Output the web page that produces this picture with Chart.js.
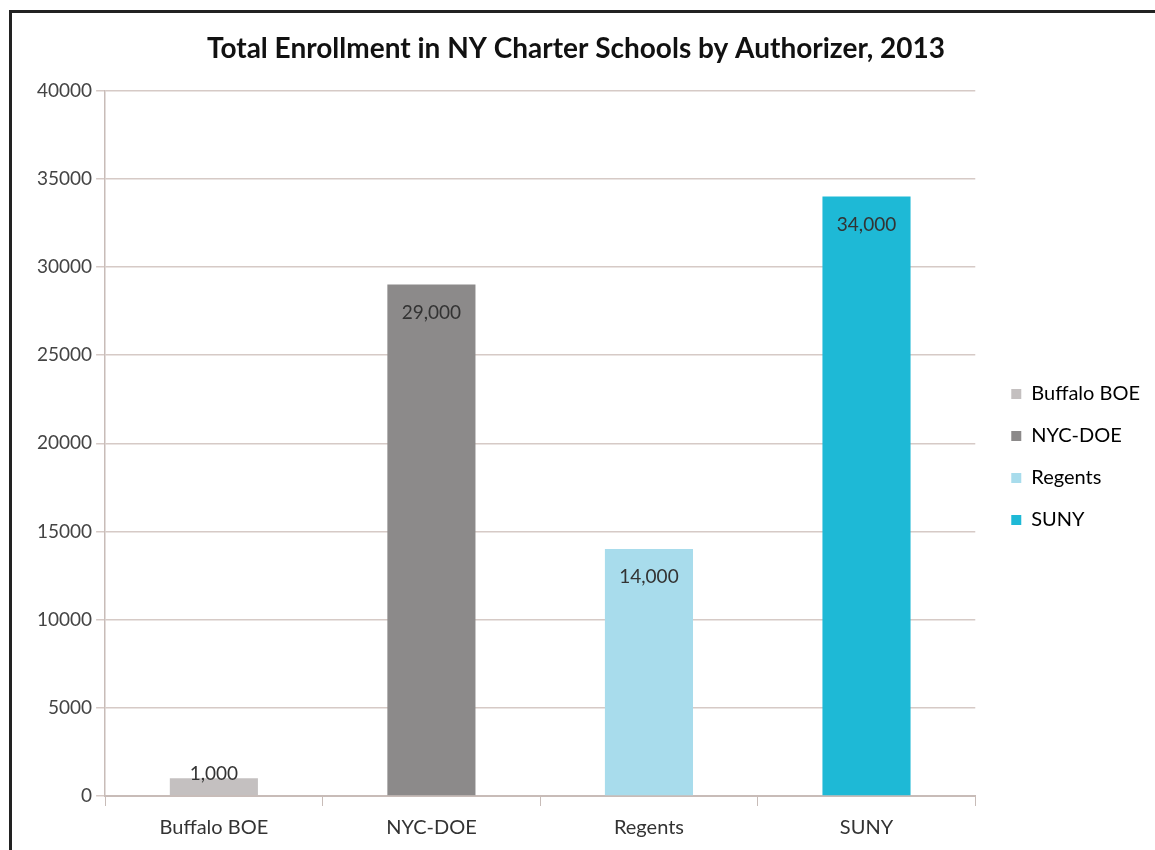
<!DOCTYPE html>
<html>
<head>
<meta charset="utf-8">
<script src="https://cdn.jsdelivr.net/npm/chart.js@4.4.1/dist/chart.umd.min.js"></script>
<style>
  html, body { margin: 0; padding: 0; background: #fff; }
  #frame {
    position: absolute; left: 9px; top: 10px;
    width: 1146px; height: 840px;
    border-left: 3px solid #222; border-top: 3px solid #222;
    box-sizing: border-box;
  }
  #wrap { position: absolute; left: 0; top: 0; width: 1155px; height: 850px; }
</style>
</head>
<body>
<div id="frame"></div>
<div id="wrap"><canvas id="chart1"></canvas></div>
<script>
const categories = ['Buffalo BOE', 'NYC-DOE', 'Regents', 'SUNY'];
const enrollment = [1000, 29000, 14000, 34000];
const labelsText = ['1,000', '29,000', '14,000', '34,000'];
const barColors = ['#c4c0c0', '#8c8a8a', '#a8dcec', '#1eb9d6'];

const fontFam = 'Lato, "Open Sans", sans-serif';

// draws the value labels on the bars
const barLabels = {
  id: 'barLabels',
  afterDatasetsDraw(chart) {
    const ctx = chart.ctx;
    const meta = chart.getDatasetMeta(0);
    ctx.save();
    ctx.font = '19px ' + fontFam;
    ctx.fillStyle = '#333';
    ctx.textAlign = 'center';
    ctx.textBaseline = 'middle';
    meta.data.forEach(function(bar, i) {
      const h = bar.base - bar.y;
      const y = h > 50 ? bar.y + 28 : bar.y - 4;
      ctx.fillText(labelsText[i], bar.x, y);
    });
    ctx.restore();
  }
};

// move legend and title a little to match the original placement
const boxNudge = {
  id: 'boxNudge',
  beforeInit(chart) {
    const lg = chart.legend;
    if (!lg || lg._nudged) return;
    const fit = lg.fit;
    lg.fit = function() { fit.call(this); this.width += 19; };
    lg._nudged = true;
  },
  afterLayout(chart) {
    const lg = chart.legend;
    lg.left += 14; lg.right += 14;
    lg.top += 16; lg.bottom += 16;
    if (chart.titleBlock) chart.titleBlock.left -= 36;
  }
};

const ctx1 = document.getElementById('chart1').getContext('2d');

new Chart(ctx1, {
  type: 'bar',
  data: {
    labels: categories,
    datasets: [{
      label: 'Enrollment',
      data: enrollment,
      backgroundColor: barColors,
      borderWidth: 0,
      categoryPercentage: 0.81,
      barPercentage: 0.5
    }]
  },
  options: {
    responsive: true,
    maintainAspectRatio: false,
    animation: false,
    layout: {
      padding: { left: 33, right: 0, top: 32, bottom: 0 }
    },
    plugins: {
      title: {
        display: true,
        text: 'Total Enrollment in NY Charter Schools by Authorizer, 2013',
        font: { family: fontFam, size: 28, weight: 'bold' },
        color: '#111',
        padding: { top: 0, bottom: 25 }
      },
      legend: {
        position: 'right',
        labels: {
          boxWidth: 10,
          boxHeight: 10,
          padding: 22,
          color: '#333',
          font: { family: fontFam, size: 20 },
          generateLabels: function(chart) {
            return categories.map(function(c, i) {
              return {
                text: c,
                fillStyle: barColors[i],
                strokeStyle: barColors[i],
                lineWidth: 0,
                hidden: false,
                index: i
              };
            });
          }
        },
        onClick: null
      },
      tooltip: { enabled: false }
    },
    scales: {
      x: {
        grid: {
          display: true,
          drawOnChartArea: false,
          offset: true,
          tickLength: 10,
          color: '#c8bcb8'
        },
        border: { color: '#c8bcb8', width: 2 },
        ticks: {
          color: '#333',
          font: { family: fontFam, size: 20 },
          padding: 10
        }
      },
      y: {
        min: 0,
        max: 40000,
        grid: {
          color: '#d6cac6',
          lineWidth: 1.5,
          tickLength: 9
        },
        border: { color: '#c8bcb8', width: 1.5 },
        ticks: {
          stepSize: 5000,
          color: '#444',
          font: { family: fontFam, size: 19 },
          padding: 4,
          callback: function(v) { return String(v); }
        }
      }
    }
  },
  plugins: [barLabels, boxNudge]
});
</script>
</body>
</html>
